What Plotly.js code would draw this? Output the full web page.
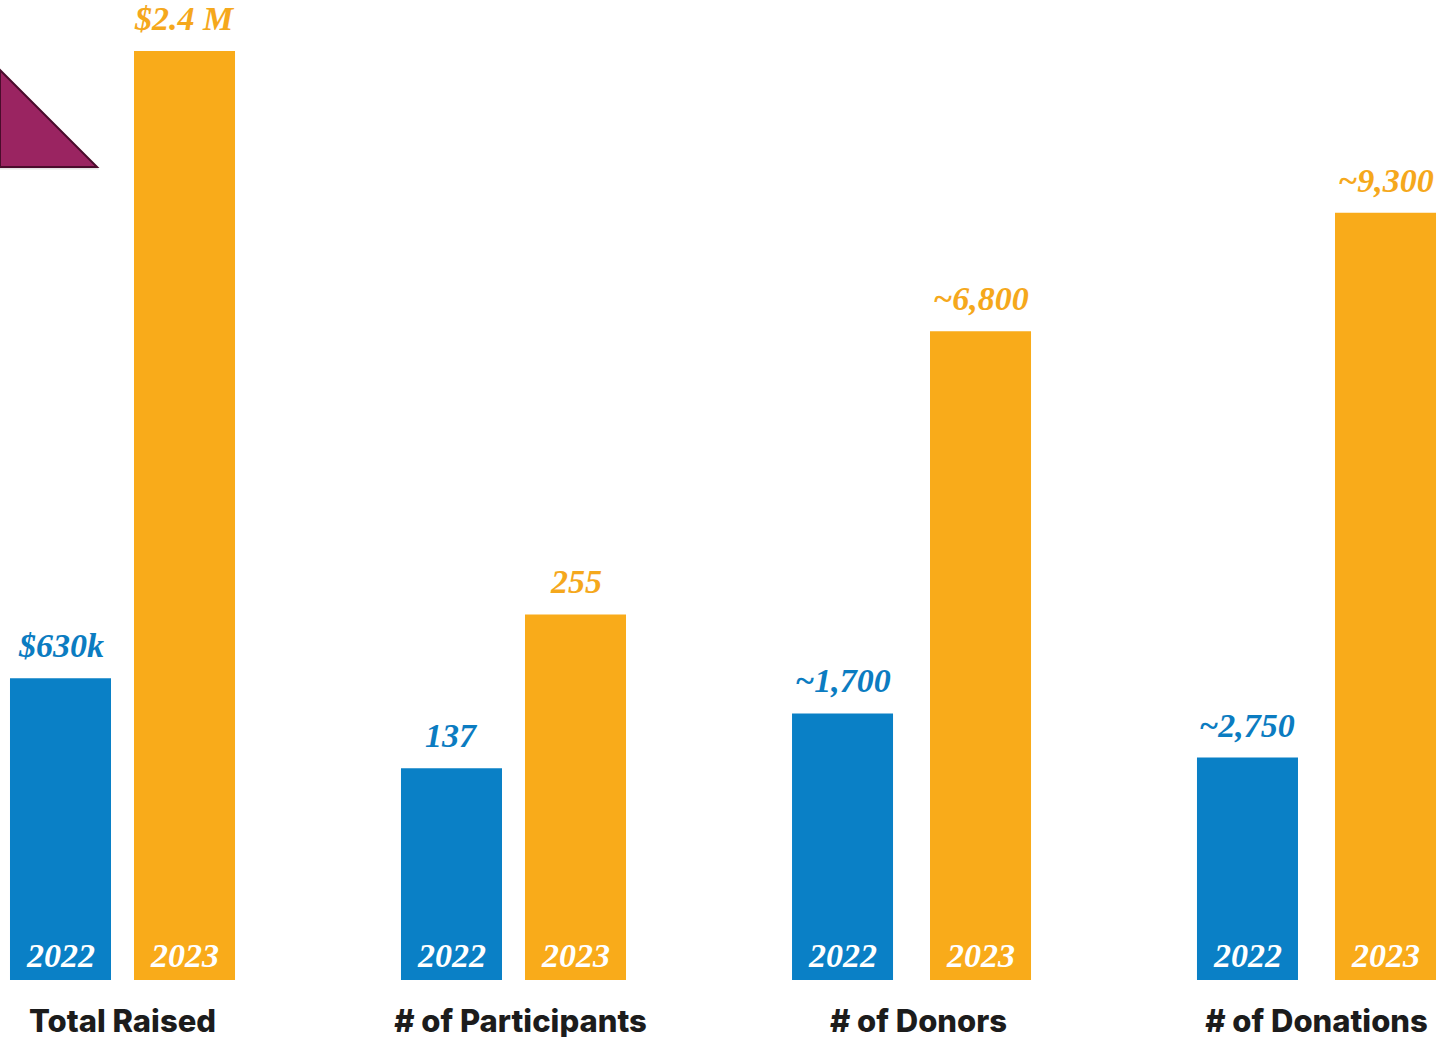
<!DOCTYPE html>
<html>
<head>
<meta charset="utf-8">
<script src="https://cdn.plot.ly/plotly-3.0.1.min.js"></script>
<style>
  html, body { margin: 0; padding: 0; background: #ffffff; }
  #chart { width: 1440px; height: 1037px; }
</style>
</head>
<body>
<div id="chart"></div>
<script>
// ---- data (bar heights as drawn, in % of chart height; labels as printed) ----
var categories = ["Total Raised", "# of Participants", "# of Donors", "# of Donations"];
var barHeight2022 = [30.8, 21.6, 27.2, 22.7];
var barHeight2023 = [94.8, 37.3, 66.2, 78.3];
var label2022 = ["$630k", "137", "~1,700", "~2,750"];
var label2023 = ["$2.4 M", "255", "~6,800", "~9,300"];
var yearLabels = ["2022", "2023"];

// ---- styling / layout constants ----
var BLUE = "#0a80c6";
var ORANGE = "#f9ab1a";
var BLUE_TEXT = "#0b7cc1";
var ORANGE_TEXT = "#f5a81c";
var barWidth = 0.2538;
var offset2022 = [-0.2827, -0.3003, -0.3178, -0.3003];
var offset2023 = [0.0289, 0.0113, 0.0289, 0.0465];
var scriptFont = { family: "Liberation Serif, DejaVu Serif, serif", style: "italic", weight: "bold" };

var idx = categories.map(function (c, i) { return i; });

var trace2022 = {
  type: "bar", x: categories, y: barHeight2022, name: yearLabels[0],
  width: barWidth, offset: offset2022,
  marker: { color: BLUE, line: { width: 0 } },
  hoverinfo: "skip"
};
var trace2023 = {
  type: "bar", x: categories, y: barHeight2023, name: yearLabels[1],
  width: barWidth, offset: offset2023,
  marker: { color: ORANGE, line: { width: 0 } },
  hoverinfo: "skip"
};

var annotations = [];
idx.forEach(function (i) {
  var xb = i + offset2022[i] + barWidth / 2;
  var xo = i + offset2023[i] + barWidth / 2;
  annotations.push({ x: xb, y: barHeight2022[i], xref: "x", yref: "y", text: label2022[i],
    showarrow: false, yanchor: "bottom", yshift: 12,
    font: Object.assign({ size: 34, color: BLUE_TEXT }, scriptFont) });
  annotations.push({ x: xo, y: barHeight2023[i], xref: "x", yref: "y", text: label2023[i],
    showarrow: false, yanchor: "bottom", yshift: 12,
    font: Object.assign({ size: 34, color: ORANGE_TEXT }, scriptFont) });
  annotations.push({ x: xb, y: 0, xref: "x", yref: "y", text: yearLabels[0],
    showarrow: false, yanchor: "bottom", yshift: 4,
    font: Object.assign({ size: 34, color: "#ffffff" }, scriptFont) });
  annotations.push({ x: xo, y: 0, xref: "x", yref: "y", text: yearLabels[1],
    showarrow: false, yanchor: "bottom", yshift: 4,
    font: Object.assign({ size: 34, color: "#ffffff" }, scriptFont) });
});

var shapes = [
  // soft shadow of the decorative triangle
  { type: "path", xref: "paper", yref: "paper",
    path: "M 0 0.9250 L 0.0690 0.8270 L 0 0.8270 Z",
    fillcolor: "rgba(0,0,0,0.10)", line: { width: 0 }, layer: "below" },
  // decorative triangle
  { type: "path", xref: "paper", yref: "paper",
    path: "M 0 0.9286 L 0.0674 0.8296 L 0 0.8296 Z",
    fillcolor: "#9a2461", line: { color: "#4a0c2c", width: 2 }, layer: "above" }
];

var layout = {
  width: 1440, height: 1037,
  margin: { l: 0, r: 0, t: 0, b: 57 },
  paper_bgcolor: "#ffffff", plot_bgcolor: "#ffffff",
  showlegend: false,
  barmode: "overlay",
  xaxis: {
    type: "category", range: [-0.3078, 3.3103],
    showgrid: false, zeroline: false, showline: false, ticks: "",
    ticklabelstandoff: 20,
    tickfont: { family: "Inter, Roboto, Open Sans, sans-serif", size: 31, color: "#1c1c1c", weight: 800 },
    fixedrange: true
  },
  yaxis: {
    range: [0, 100], visible: false, showgrid: false, zeroline: false, fixedrange: true
  },
  annotations: annotations,
  shapes: shapes
};

Plotly.newPlot("chart", [trace2022, trace2023], layout, { displayModeBar: false, staticPlot: true });
</script>
</body>
</html>
